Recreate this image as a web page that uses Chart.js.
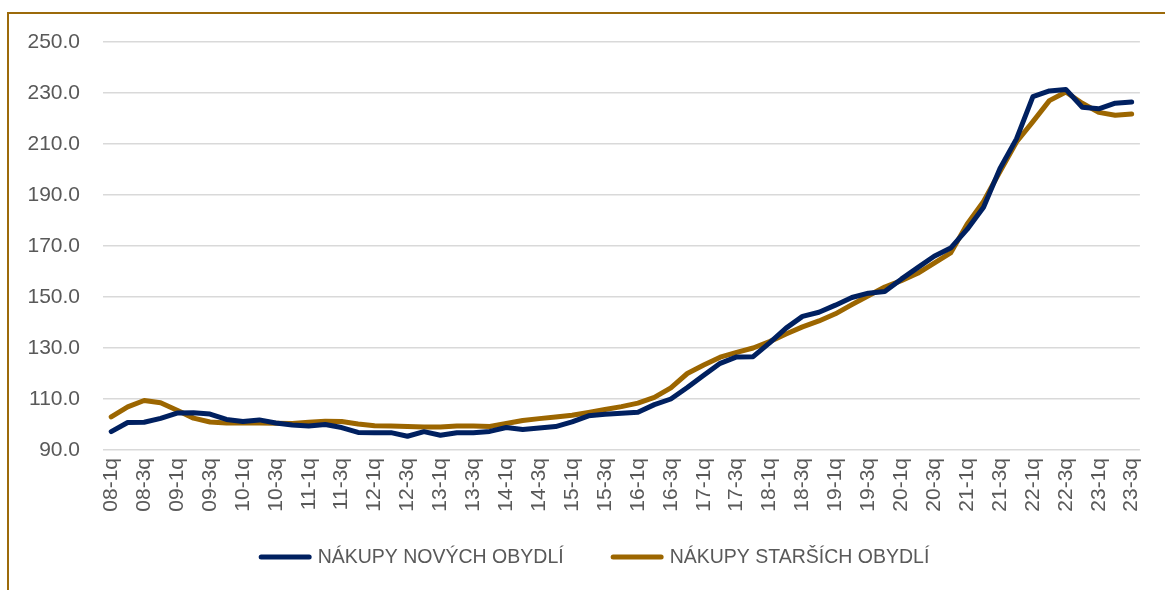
<!DOCTYPE html>
<html>
<head>
<meta charset="utf-8">
<script src="https://cdn.jsdelivr.net/npm/chart.js@4"></script>
<style>
  html, body { margin: 0; padding: 0; background: #ffffff; }
  #wrap { position: relative; width: 1165px; height: 590px; overflow: hidden; background: #ffffff; }
  #frame { position: absolute; left: 7px; top: 12px; width: 1300px; height: 700px;
           border-top: 2px solid #9c6a0a; border-left: 2px solid #9c6a0a; box-sizing: border-box; }
  #c { position: absolute; left: 0; top: 0; }
</style>
</head>
<body>
<div id="wrap">
  <div id="frame"></div>
  <canvas id="c" width="1165" height="590"></canvas>
</div>
<script>
const quarters = [
  "08-1q","08-2q","08-3q","08-4q","09-1q","09-2q","09-3q","09-4q",
  "10-1q","10-2q","10-3q","10-4q","11-1q","11-2q","11-3q","11-4q",
  "12-1q","12-2q","12-3q","12-4q","13-1q","13-2q","13-3q","13-4q",
  "14-1q","14-2q","14-3q","14-4q","15-1q","15-2q","15-3q","15-4q",
  "16-1q","16-2q","16-3q","16-4q","17-1q","17-2q","17-3q","17-4q",
  "18-1q","18-2q","18-3q","18-4q","19-1q","19-2q","19-3q","19-4q",
  "20-1q","20-2q","20-3q","20-4q","21-1q","21-2q","21-3q","21-4q",
  "22-1q","22-2q","22-3q","22-4q","23-1q","23-2q","23-3q"
];

const newDwellings = [
  97.2, 100.8, 100.9, 102.4, 104.5, 104.6, 104.1, 102.0,
  101.2, 101.8, 100.6, 99.8, 99.4, 100.0, 98.8, 96.9,
  96.8, 96.8, 95.4, 97.2, 95.8, 96.8, 96.8, 97.3,
  98.8, 98.0, 98.6, 99.2, 101.0, 103.4, 104.0, 104.4,
  104.8, 107.8, 110.0, 114.5, 119.3, 124.0, 126.5, 126.6,
  132.0, 137.8, 142.4, 144.0, 146.8, 149.8, 151.5, 152.2,
  157.0, 161.5, 166.0, 169.2, 176.5, 185.2, 200.4, 212.0,
  228.6, 230.8, 231.4, 224.4, 223.8, 226.0, 226.5
];

const olderDwellings = [
  103.0, 106.9, 109.4, 108.5, 105.6, 102.5, 101.0, 100.6,
  100.6, 100.6, 100.5, 100.4, 100.9, 101.3, 101.2, 100.2,
  99.5, 99.4, 99.2, 99.0, 99.0, 99.4, 99.4, 99.2,
  100.4, 101.6, 102.3, 102.9, 103.6, 104.7, 105.9, 107.0,
  108.4, 110.6, 114.4, 120.0, 123.3, 126.4, 128.3, 130.0,
  132.5, 135.5, 138.3, 140.6, 143.4, 147.0, 150.5, 153.9,
  156.4, 159.3, 163.3, 167.3, 178.5, 187.5, 199.2, 210.8,
  218.8, 227.0, 230.4, 226.0, 222.4, 221.3, 221.8
];

const seriesNames = ["NÁKUPY NOVÝCH OBYDLÍ", "NÁKUPY STARŠÍCH OBYDLÍ"];
const seriesColors = ["#002060", "#9c6600"];

const FONT = "'Liberation Sans', Arial, sans-serif";
const TEXT = "#595959";

const bottomLegend = {
  id: 'bottomLegend',
  afterDraw(chart) {
    const ctx = chart.ctx;
    ctx.save();
    ctx.font = "19.5px " + FONT;
    const lineW = 53, gapText = 6, itemGap = 47;
    const items = chart.data.datasets.map(ds => ({
      text: ds.label, color: ds.borderColor, w: ctx.measureText(ds.label).width
    }));
    const total = items.reduce((s, it) => s + lineW + gapText + it.w, 0) + itemGap * (items.length - 1);
    let x = 594 - total / 2;
    const y = 557;
    items.forEach(it => {
      ctx.strokeStyle = it.color;
      ctx.lineWidth = 5;
      ctx.lineCap = 'round';
      ctx.beginPath();
      ctx.moveTo(x + 2.5, y);
      ctx.lineTo(x + lineW - 2.5, y);
      ctx.stroke();
      x += lineW + gapText;
      ctx.fillStyle = TEXT;
      ctx.textBaseline = 'middle';
      ctx.textAlign = 'left';
      ctx.fillText(it.text, x, y + 1);
      x += it.w + itemGap;
    });
    ctx.restore();
  }
};

new Chart(document.getElementById('c'), {
  type: 'line',
  data: {
    labels: quarters,
    datasets: [
      { label: seriesNames[0], data: newDwellings, borderColor: seriesColors[0], backgroundColor: seriesColors[0],
        borderWidth: 5, pointRadius: 0, tension: 0, borderJoinStyle: 'round', borderCapStyle: 'round' },
      { label: seriesNames[1], data: olderDwellings, borderColor: seriesColors[1], backgroundColor: seriesColors[1],
        borderWidth: 5, pointRadius: 0, tension: 0, borderJoinStyle: 'round', borderCapStyle: 'round' }
    ]
  },
  plugins: [bottomLegend],
  options: {
    responsive: false,
    animation: false,
    events: [],
    layout: { padding: { left: 0, right: 16, top: 42, bottom: 70 } },
    plugins: {
      tooltip: { enabled: false },
      legend: { display: false }
    },
    scales: {
      x: {
        offset: true,
        grid: { display: false, drawTicks: false },
        border: { display: false },
        ticks: {
          color: TEXT,
          font: { family: FONT, size: 21 },
          autoSkip: false,
          minRotation: 90,
          maxRotation: 90,
          padding: 8,
          callback: function(v, i) { return i % 2 === 0 ? quarters[i] : ''; }
        },
        afterFit: function(s) { s.height = 70; }
      },
      y: {
        min: 90,
        max: 250,
        grid: { color: '#d9d9d9', lineWidth: 1.5, drawTicks: false },
        border: { display: false },
        ticks: {
          stepSize: 20,
          color: TEXT,
          font: { family: FONT, size: 21 },
          padding: 23,
          callback: function(v) { return Number(v).toFixed(1); }
        },
        afterFit: function(s) { s.width = 103; }
      }
    }
  }
});
</script>
</body>
</html>
